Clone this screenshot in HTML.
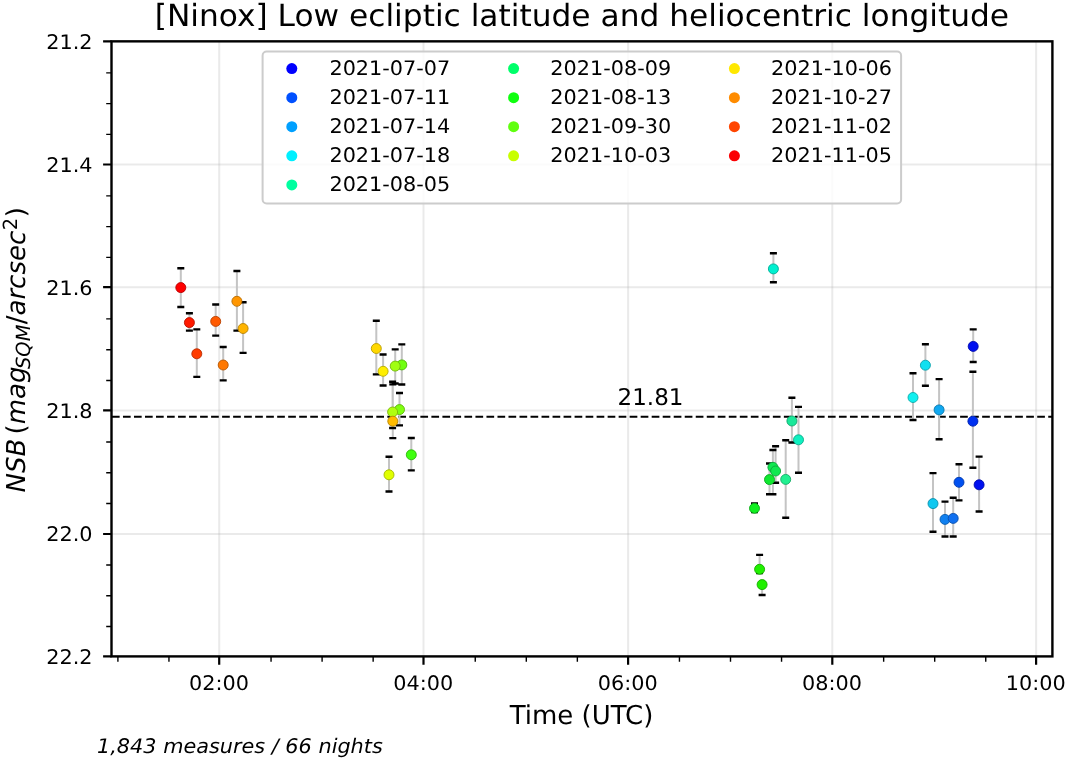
<!DOCTYPE html>
<html><head><meta charset="utf-8"><title>NSB plot</title>
<style>html,body{margin:0;padding:0;background:#fff;overflow:hidden}svg{display:block}</style>
</head><body>
<svg text-rendering="geometricPrecision" width="1068" height="759" viewBox="0 0 1068 759" font-family="'DejaVu Sans', 'Liberation Sans', sans-serif">
<rect x="0" y="0" width="1068" height="759" fill="#ffffff"/>
<path d="M219.20 41.35V656.40M423.50 41.35V656.40M628.10 41.35V656.40M832.30 41.35V656.40M1036.10 41.35V656.40" stroke="#b0b0b0" stroke-opacity="0.27" stroke-width="2" fill="none"/>
<path d="M111.50 164.50H1052.40M111.50 287.20H1052.40M111.50 410.40H1052.40M111.50 534.00H1052.40" stroke="#b0b0b0" stroke-opacity="0.27" stroke-width="2" fill="none"/>
<path d="M111.95 416.7H1052.40" stroke="#000" stroke-width="2.1" stroke-dasharray="7.69 3.325" fill="none"/>
<text x="650.5" y="405.2" font-size="23" text-anchor="middle">21.81</text>
<path d="M180.8 268.3V307.0M189.4 313.2V330.6M196.8 329.4V376.9M215.7 304.5V335.6M223.2 347.0V380.4M236.9 271.0V330.6M243.1 302.2V352.9M376.3 320.7V374.4M383.1 354.5V385.5M401.8 344.4V384.5M395.2 349.4V383.5M399.5 393.0V425.4M392.6 381.7V428.0M392.8 384.4V438.1M411.3 438.0V470.4M389.0 456.8V491.5M773.4 253.2V282.2M791.9 397.8V442.5M798.5 406.9V472.8M772.9 450.0V494.2M775.6 446.3V482.7M769.5 463.5V494.2M785.7 440.3V517.7M754.5 503.5V512.0M759.6 554.9V573.0M762.1 582.4V595.0M913.0 373.2V420.0M925.4 344.3V385.7M939.1 379.1V439.3M973.2 329.4V362.0M972.9 371.7V467.8M959.0 464.2V500.4M979.1 456.6V511.5M933.0 473.1V531.8M945.0 501.6V536.5M953.2 497.8V536.5" stroke="#c4c4c4" stroke-width="2" fill="none"/>
<path d="M177.3 268.3h7.0M177.3 307.0h7.0M185.9 313.2h7.0M185.9 330.6h7.0M193.3 329.4h7.0M193.3 376.9h7.0M212.2 304.5h7.0M212.2 335.6h7.0M219.7 347.0h7.0M219.7 380.4h7.0M233.4 271.0h7.0M233.4 330.6h7.0M239.6 302.2h7.0M239.6 352.9h7.0M372.8 320.7h7.0M372.8 374.4h7.0M379.6 354.5h7.0M379.6 385.5h7.0M398.3 344.4h7.0M398.3 384.5h7.0M391.7 349.4h7.0M391.7 383.5h7.0M396.0 393.0h7.0M396.0 425.4h7.0M389.1 381.7h7.0M389.1 428.0h7.0M389.3 384.4h7.0M389.3 438.1h7.0M407.8 438.0h7.0M407.8 470.4h7.0M385.5 456.8h7.0M385.5 491.5h7.0M769.9 253.2h7.0M769.9 282.2h7.0M788.4 397.8h7.0M788.4 442.5h7.0M795.0 406.9h7.0M795.0 472.8h7.0M769.4 450.0h7.0M769.4 494.2h7.0M772.1 446.3h7.0M772.1 482.7h7.0M766.0 463.5h7.0M766.0 494.2h7.0M782.2 440.3h7.0M782.2 517.7h7.0M751.0 503.5h7.0M751.0 512.0h7.0M756.1 554.9h7.0M756.1 573.0h7.0M758.6 582.4h7.0M758.6 595.0h7.0M909.5 373.2h7.0M909.5 420.0h7.0M921.9 344.3h7.0M921.9 385.7h7.0M935.6 379.1h7.0M935.6 439.3h7.0M969.7 329.4h7.0M969.7 362.0h7.0M969.4 371.7h7.0M969.4 467.8h7.0M955.5 464.2h7.0M955.5 500.4h7.0M975.6 456.6h7.0M975.6 511.5h7.0M929.5 473.1h7.0M929.5 531.8h7.0M941.5 501.6h7.0M941.5 536.5h7.0M949.7 497.8h7.0M949.7 536.5h7.0" stroke="#000" stroke-width="2.4" fill="none"/>
<circle cx="180.8" cy="287.6" r="5.0" fill="#ff0000" stroke="#b70000" stroke-width="0.9"/>
<circle cx="189.4" cy="322.6" r="5.0" fill="#ff1a00" stroke="#b71200" stroke-width="0.9"/>
<circle cx="196.8" cy="353.8" r="5.0" fill="#ff3c00" stroke="#b72b00" stroke-width="0.9"/>
<circle cx="215.7" cy="321.4" r="5.0" fill="#ff5a00" stroke="#b74000" stroke-width="0.9"/>
<circle cx="223.2" cy="365.0" r="5.0" fill="#ff7800" stroke="#b75600" stroke-width="0.9"/>
<circle cx="236.9" cy="301.3" r="5.0" fill="#ff9600" stroke="#b76c00" stroke-width="0.9"/>
<circle cx="243.1" cy="328.5" r="5.0" fill="#ffb400" stroke="#b78100" stroke-width="0.9"/>
<circle cx="376.3" cy="348.5" r="5.0" fill="#ffd800" stroke="#b79b00" stroke-width="0.9"/>
<circle cx="383.1" cy="371.3" r="5.0" fill="#ffee00" stroke="#b7ab00" stroke-width="0.9"/>
<circle cx="401.8" cy="364.9" r="5.0" fill="#70ff10" stroke="#50b70b" stroke-width="0.9"/>
<circle cx="395.2" cy="366.1" r="5.0" fill="#a0ff10" stroke="#73b70b" stroke-width="0.9"/>
<circle cx="399.5" cy="409.6" r="5.0" fill="#80ff10" stroke="#5cb70b" stroke-width="0.9"/>
<circle cx="392.6" cy="412.0" r="5.0" fill="#b0ff10" stroke="#7eb70b" stroke-width="0.9"/>
<circle cx="392.8" cy="421.2" r="5.0" fill="#ffbb00" stroke="#b78600" stroke-width="0.9"/>
<circle cx="411.3" cy="454.8" r="5.0" fill="#40ff10" stroke="#2eb70b" stroke-width="0.9"/>
<circle cx="389.0" cy="474.8" r="5.0" fill="#e0ff00" stroke="#a1b700" stroke-width="0.9"/>
<circle cx="773.4" cy="268.9" r="5.0" fill="#00f0d0" stroke="#00ac95" stroke-width="0.9"/>
<circle cx="791.9" cy="421.0" r="5.0" fill="#1ae89a" stroke="#12a76e" stroke-width="0.9"/>
<circle cx="798.5" cy="439.8" r="5.0" fill="#10f0c0" stroke="#0bac8a" stroke-width="0.9"/>
<circle cx="772.9" cy="467.3" r="5.0" fill="#10e850" stroke="#0ba739" stroke-width="0.9"/>
<circle cx="775.6" cy="471.0" r="5.0" fill="#10e850" stroke="#0ba739" stroke-width="0.9"/>
<circle cx="769.5" cy="479.6" r="5.0" fill="#10e830" stroke="#0ba722" stroke-width="0.9"/>
<circle cx="785.7" cy="479.4" r="5.0" fill="#20f090" stroke="#17ac67" stroke-width="0.9"/>
<circle cx="754.5" cy="508.3" r="5.0" fill="#10f020" stroke="#0bac17" stroke-width="0.9"/>
<circle cx="759.6" cy="569.3" r="5.0" fill="#20f000" stroke="#17ac00" stroke-width="0.9"/>
<circle cx="762.1" cy="584.6" r="5.0" fill="#20f000" stroke="#17ac00" stroke-width="0.9"/>
<circle cx="913.0" cy="397.5" r="5.0" fill="#10f0f0" stroke="#0bacac" stroke-width="0.9"/>
<circle cx="925.4" cy="365.2" r="5.0" fill="#10e0f0" stroke="#0ba1ac" stroke-width="0.9"/>
<circle cx="939.1" cy="409.9" r="5.0" fill="#10a8f0" stroke="#0b78ac" stroke-width="0.9"/>
<circle cx="973.2" cy="346.4" r="5.0" fill="#0010f0" stroke="#000bac" stroke-width="0.9"/>
<circle cx="972.9" cy="421.2" r="5.0" fill="#0030f0" stroke="#0022ac" stroke-width="0.9"/>
<circle cx="959.0" cy="482.3" r="5.0" fill="#0050f0" stroke="#0039ac" stroke-width="0.9"/>
<circle cx="979.1" cy="484.8" r="5.0" fill="#0010f0" stroke="#000bac" stroke-width="0.9"/>
<circle cx="933.0" cy="503.6" r="5.0" fill="#10c8f0" stroke="#0b90ac" stroke-width="0.9"/>
<circle cx="945.0" cy="519.4" r="5.0" fill="#1080f0" stroke="#0b5cac" stroke-width="0.9"/>
<circle cx="953.2" cy="518.4" r="5.0" fill="#1070f0" stroke="#0b50ac" stroke-width="0.9"/>
<rect x="111.5" y="41.35" width="940.90" height="615.05" fill="none" stroke="#000" stroke-width="2.4" stroke-linejoin="miter"/>
<path d="M103.10 41.35H111.50M103.10 164.50H111.50M103.10 287.20H111.50M103.10 410.40H111.50M103.10 534.00H111.50M103.10 656.40H111.50M219.20 656.40V664.80M423.50 656.40V664.80M628.10 656.40V664.80M832.30 656.40V664.80M1036.10 656.40V664.80" stroke="#000" stroke-width="2.2"/>
<path d="M106.20 72.90H111.50M106.20 103.66H111.50M106.20 134.41H111.50M106.20 195.91H111.50M106.20 226.67H111.50M106.20 257.42H111.50M106.20 318.92H111.50M106.20 349.68H111.50M106.20 380.43H111.50M106.20 441.93H111.50M106.20 472.68H111.50M106.20 503.44H111.50M106.20 564.94H111.50M106.20 595.69H111.50M106.20 626.45H111.50M117.90 656.40V661.70M168.95 656.40V661.70M271.05 656.40V661.70M322.10 656.40V661.70M373.15 656.40V661.70M475.25 656.40V661.70M526.30 656.40V661.70M577.35 656.40V661.70M679.45 656.40V661.70M730.50 656.40V661.70M781.55 656.40V661.70M883.65 656.40V661.70M934.70 656.40V661.70M985.75 656.40V661.70" stroke="#000" stroke-width="1.4"/>
<text transform="translate(92.60 48.75) scale(1 0.965)" font-size="20.8" text-anchor="end">21.2</text>
<text transform="translate(92.60 171.90) scale(1 0.965)" font-size="20.8" text-anchor="end">21.4</text>
<text transform="translate(92.60 294.60) scale(1 0.965)" font-size="20.8" text-anchor="end">21.6</text>
<text transform="translate(92.60 417.80) scale(1 0.965)" font-size="20.8" text-anchor="end">21.8</text>
<text transform="translate(92.60 541.40) scale(1 0.965)" font-size="20.8" text-anchor="end">22.0</text>
<text transform="translate(92.60 663.80) scale(1 0.965)" font-size="20.8" text-anchor="end">22.2</text>
<text transform="translate(218.90 690.10) scale(1 0.965)" font-size="20.8" text-anchor="middle">02:00</text>
<text transform="translate(423.20 690.10) scale(1 0.965)" font-size="20.8" text-anchor="middle">04:00</text>
<text transform="translate(627.80 690.10) scale(1 0.965)" font-size="20.8" text-anchor="middle">06:00</text>
<text transform="translate(832.00 690.10) scale(1 0.965)" font-size="20.8" text-anchor="middle">08:00</text>
<text transform="translate(1035.80 690.10) scale(1 0.965)" font-size="20.8" text-anchor="middle">10:00</text>
<text transform="translate(581.50 723.50)" font-size="26" text-anchor="middle">Time (UTC)</text>
<text transform="translate(581.90 26.10) scale(1 0.975)" font-size="31.25" text-anchor="middle">[Ninox] Low ecliptic latitude and heliocentric longitude</text>
<text transform="translate(25.3 492.5) rotate(-90)"><tspan x="0.00" y="-0.55" font-size="26.00" font-style="oblique">N</tspan><tspan x="19.45" y="-0.55" font-size="26.00" font-style="oblique">S</tspan><tspan x="35.95" y="-0.55" font-size="26.00" font-style="oblique">B</tspan><tspan x="58.01" y="-0.55" font-size="26.00">(</tspan><tspan x="68.15" y="-0.55" font-size="26.00" font-style="oblique">m</tspan><tspan x="93.48" y="-0.55" font-size="26.00" font-style="oblique">a</tspan><tspan x="109.41" y="-0.55" font-size="26.00" font-style="oblique">g</tspan><tspan x="123.42" y="4.90" font-size="19.50" font-style="oblique">S</tspan><tspan x="135.80" y="4.90" font-size="19.50" font-style="oblique">Q</tspan><tspan x="151.15" y="4.90" font-size="19.50" font-style="oblique">M</tspan><tspan x="168.24" y="-0.55" font-size="26.00">/</tspan><tspan x="177.00" y="-0.55" font-size="26.00" font-style="oblique">a</tspan><tspan x="192.93" y="-0.55" font-size="26.00" font-style="oblique">r</tspan><tspan x="203.62" y="-0.55" font-size="26.00" font-style="oblique">c</tspan><tspan x="217.92" y="-0.55" font-size="26.00" font-style="oblique">s</tspan><tspan x="231.46" y="-0.55" font-size="26.00" font-style="oblique">e</tspan><tspan x="247.46" y="-0.55" font-size="26.00" font-style="oblique">c</tspan><tspan x="262.21" y="-8.70" font-size="19.50">2</tspan><tspan x="275.33" y="-0.55" font-size="26.00">)</tspan></text>
<text transform="translate(97.00 752.50) scale(1 0.965)" font-size="20.8" font-style="italic">1,843 measures / 66 nights</text>
<rect x="262.6" y="51.5" width="638.5" height="152" rx="4" ry="4" fill="#ffffff" fill-opacity="0.8" stroke="#cccccc" stroke-width="2"/>
<circle cx="291.8" cy="68.6" r="5.5" fill="#0000ff"/>
<text transform="translate(329.40 74.98) scale(1 0.965)" font-size="20.8">2021-07-07</text>
<circle cx="291.8" cy="97.7" r="5.5" fill="#0050ff"/>
<text transform="translate(329.40 104.05) scale(1 0.965)" font-size="20.8">2021-07-11</text>
<circle cx="291.8" cy="126.7" r="5.5" fill="#00a0ff"/>
<text transform="translate(329.40 133.12) scale(1 0.965)" font-size="20.8">2021-07-14</text>
<circle cx="291.8" cy="155.8" r="5.5" fill="#00f0ff"/>
<text transform="translate(329.40 162.19) scale(1 0.965)" font-size="20.8">2021-07-18</text>
<circle cx="291.8" cy="184.9" r="5.5" fill="#00ffa0"/>
<text transform="translate(329.40 191.26) scale(1 0.965)" font-size="20.8">2021-08-05</text>
<circle cx="513.6" cy="68.6" r="5.5" fill="#00ff6a"/>
<text transform="translate(550.30 74.98) scale(1 0.965)" font-size="20.8">2021-08-09</text>
<circle cx="513.6" cy="97.7" r="5.5" fill="#10ff10"/>
<text transform="translate(550.30 104.05) scale(1 0.965)" font-size="20.8">2021-08-13</text>
<circle cx="513.6" cy="126.7" r="5.5" fill="#60ff10"/>
<text transform="translate(550.30 133.12) scale(1 0.965)" font-size="20.8">2021-09-30</text>
<circle cx="513.6" cy="155.8" r="5.5" fill="#c8ff00"/>
<text transform="translate(550.30 162.19) scale(1 0.965)" font-size="20.8">2021-10-03</text>
<circle cx="734.4" cy="68.6" r="5.5" fill="#ffe800"/>
<text transform="translate(771.00 74.98) scale(1 0.965)" font-size="20.8">2021-10-06</text>
<circle cx="734.4" cy="97.7" r="5.5" fill="#ff8c00"/>
<text transform="translate(771.00 104.05) scale(1 0.965)" font-size="20.8">2021-10-27</text>
<circle cx="734.4" cy="126.7" r="5.5" fill="#ff4500"/>
<text transform="translate(771.00 133.12) scale(1 0.965)" font-size="20.8">2021-11-02</text>
<circle cx="734.4" cy="155.8" r="5.5" fill="#fb0004"/>
<text transform="translate(771.00 162.19) scale(1 0.965)" font-size="20.8">2021-11-05</text>
</svg>
</body></html>
